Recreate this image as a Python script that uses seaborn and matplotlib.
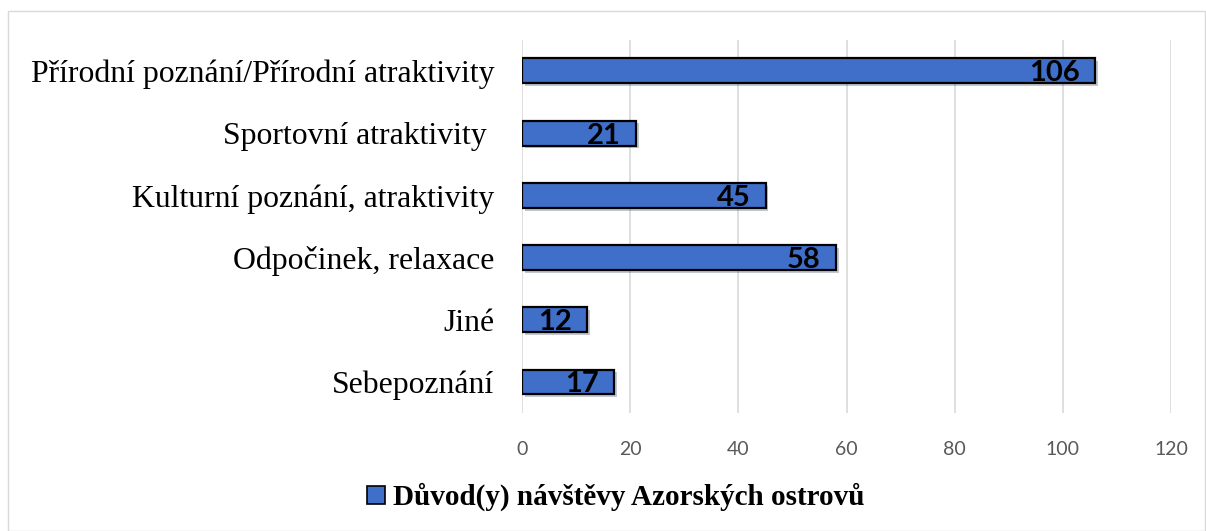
import pandas as pd
import matplotlib.pyplot as plt
import matplotlib.patheffects as pe
from matplotlib.patches import Rectangle
from matplotlib.lines import Line2D
import seaborn as sns

reasons = ['Přírodní poznání/Přírodní atraktivity', 'Sportovní atraktivity ',
           'Kulturní poznání, atraktivity', 'Odpočinek, relaxace', 'Jiné', 'Sebepoznání']
counts = [106, 21, 45, 58, 12, 17]
series_name = 'Důvod(y) návštěvy Azorských ostrovů'

df = pd.DataFrame({'reason': reasons, 'count': counts})

sns.set_style('white')
plt.rcParams['text.color'] = 'black'
fig = plt.figure(figsize=(12.06, 5.31), dpi=100)
ax = fig.add_axes([0.433, 0.222, 0.538, 0.703])

sns.barplot(x='count', y='reason', data=df, orient='h', width=0.4,
            color='#3f6fc9', saturation=1, edgecolor='black', linewidth=1.6, ax=ax, zorder=3)
for bar in ax.patches:
    bar.set_path_effects([pe.SimplePatchShadow(offset=(2, -2), alpha=0.25), pe.Normal()])

for bar, v in zip(ax.patches, counts):
    ax.text(bar.get_width() - 2.8, bar.get_y() + bar.get_height() / 2 + 0.04, str(v),
            ha='right', va='center', fontsize=21, fontweight='bold',
            family='Lato', color='black', zorder=4)

ax.set_xlim(0, 120)
ax.set_xticks(range(0, 121, 20))
ax.grid(axis='x', color='#d9d9d9', linewidth=1.2, zorder=0)
ax.set_axisbelow(True)
sns.despine(ax=ax, left=True, bottom=True)
ax.set_xlabel('')
ax.set_ylabel('')
ax.tick_params(axis='x', length=0, labelsize=14, labelcolor='#595959', pad=20)
ax.tick_params(axis='y', length=0, pad=20, labelcolor='black')
for t in ax.get_xticklabels():
    t.set_family('Lato')
for t in ax.get_yticklabels():
    t.set_family('Liberation Serif')
    t.set_fontsize(22.9)

handle = Line2D([], [], marker='s', linestyle='none', markersize=13,
                markerfacecolor='#3f6fc9', markeredgecolor='black', markeredgewidth=1.2)
fig.legend([handle], [series_name], loc='center', bbox_to_anchor=(0.507, 0.064),
           frameon=False, handletextpad=0.0, handlelength=1.2,
           prop={'family': 'Liberation Serif', 'weight': 'bold', 'size': 21})

fig.patches.append(Rectangle((0.007, 0.0), 0.992, 0.98, transform=fig.transFigure,
                             fill=False, edgecolor='#d9d9d9', linewidth=1))

plt.savefig('out.png', dpi=100)
